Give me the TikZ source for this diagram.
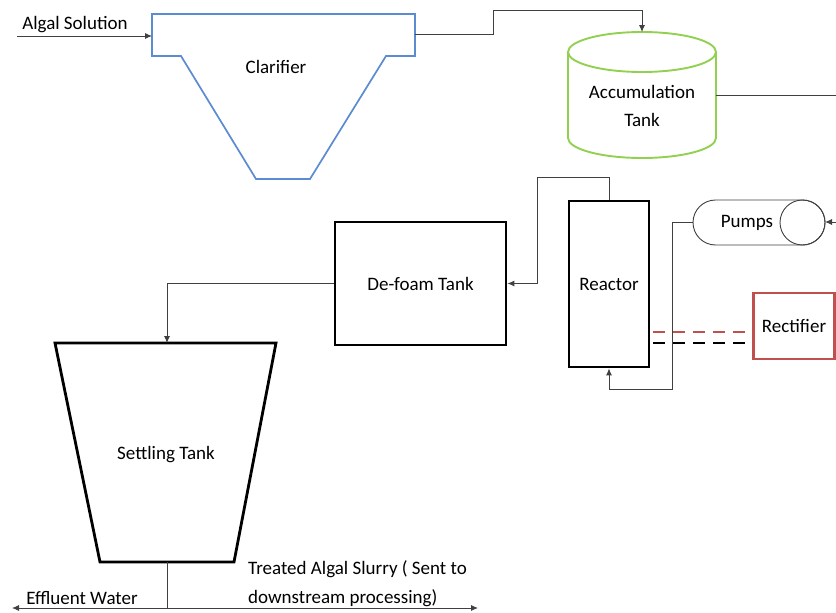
\documentclass[tikz,border=0pt]{standalone}
\usepackage{fontspec}
\setmainfont{Carlito}
\usetikzlibrary{arrows.meta}
\definecolor{clarblue}{HTML}{5B8BD0}
\definecolor{tankgreen}{HTML}{92D050}
\definecolor{rectred}{HTML}{C0504D}
\definecolor{wire}{HTML}{404040}
\tikzset{
  wirepath/.style={draw=wire, line width=0.9pt},
  arr/.style={wirepath, -{Latex[length=7pt,width=6pt]}},
  thickbox/.style={draw=black, line width=2.8pt, inner sep=0pt},
  lbl/.style={font=\fontsize{19}{28}\selectfont, inner sep=0pt},
}
\begin{document}
\begin{tikzpicture}[x=1pt,y=-1pt]
\useasboundingbox (0,0) rectangle (836,613);
% Clarifier
\draw[clarblue, line width=1.7pt, line join=miter]
  (152,14) -- (415,14) -- (415,56) -- (386,56) -- (310,179) -- (256,179) -- (181,56) -- (152,56) -- cycle;
\node[lbl] (clar) at (276,67) {Clarifier};
\coordinate (clarL) at (152,36);
\coordinate (clarR) at (415,34);
\coordinate (feed) at (17,36);
\node[lbl] (algal) at (75,25) {Algal Solution};
% Accumulation tank
\draw[tankgreen, line width=1.9pt] (642,52) ellipse [x radius=74, y radius=20];
\draw[tankgreen, line width=1.9pt] (568,52) -- (568,138) arc[start angle=180, end angle=0, x radius=74, y radius=20] -- (716,52);
\node[lbl, align=center] (tank) at (642,106) {Accumulation\\Tank};
\coordinate (tankTop) at (642,32);
\coordinate (tankR) at (716,95);
\coordinate (tankOut) at (836,95);
% Reactor
\node[thickbox, minimum width=80pt, minimum height=166pt] (reactor) at (609,284) {};
\node[lbl] at (reactor) {Reactor};
% De-foam
\node[thickbox, minimum width=171pt, minimum height=123pt] (defoam) at (420.5,283.5) {};
\node[lbl] at (defoam) {De-foam Tank};
% Rectifier
\node[draw=rectred, line width=2.4pt, minimum width=81pt, minimum height=66pt, inner sep=0pt] (rectifier) at (794,326) {};
\node[lbl] at (rectifier) {Rectifier};
% Pumps
\draw[wire, line width=0.9pt, rounded corners=22.5pt] (693,200) rectangle (825,245);
\draw[wire, line width=0.9pt] (802.5,222.5) circle (22.5);
\node[lbl] (pumps) at (747,223) {Pumps};
\coordinate (pumpsL) at (693,222);
\coordinate (pumpsR) at (825,222);
\coordinate (pumpIn) at (836,222);
% Settling tank
\draw[black, line width=2.8pt, line join=miter] (55,343) -- (276,343) -- (234,562) -- (100,562) -- cycle;
\node[lbl] (settle) at (166,455) {Settling Tank};
\coordinate (settleTop) at (167,343);
\coordinate (settleBot) at (167,562);
\coordinate (outJ) at (167,608);
\coordinate (outL) at (12,608);
\coordinate (outR) at (478,608);
\node[lbl, anchor=west] (slurry1) at (248,569) {Treated Algal Slurry ( Sent to};
\node[lbl, anchor=west] (slurry2) at (248,598) {downstream processing)};
\node[lbl] (effluent) at (82,598) {Effluent Water};
% Connectors
\draw[arr] (feed) -- (clarL);
\draw[arr] (clarR) -| (493,10) -| (tankTop);
\draw[wirepath] (tankR) -- (tankOut);
\draw[arr] (reactor.north) |- (537,177) |- (defoam.east);
\draw[arr] (defoam.west) -| (settleTop);
\draw[arr] (pumpsL) -| (672,389) -| (reactor.south);
\draw[arr] (pumpIn) -- (pumpsR);
\draw[wirepath] (settleBot) -- (outJ);
\draw[wire, line width=0.9pt, {Latex[length=7pt,width=6pt]}-{Latex[length=7pt,width=6pt]}] (outL) -- (outR);
% Dashed electric lines
\draw[rectred, line width=2.6pt, dash pattern=on 12pt off 8pt] (653,332) -- (rectifier.west |- 0,332);
\draw[black, line width=2.6pt, dash pattern=on 12pt off 8pt] (653,343) -- (rectifier.west |- 0,343);
\end{tikzpicture}
\end{document}
